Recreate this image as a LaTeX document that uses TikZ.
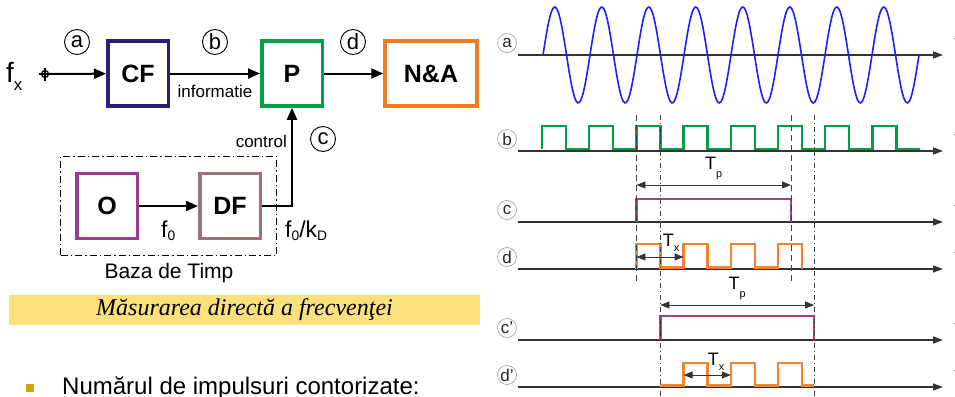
\documentclass[tikz,border=0pt]{standalone}
\usepackage{fontspec}
\setmainfont{Liberation Sans}
\newfontfamily\bandfont{Liberation Serif}
\usetikzlibrary{arrows.meta,calc,fit}
\definecolor{cfnavy}{HTML}{2A1F7A}
\definecolor{pgreen}{HTML}{00A04A}
\definecolor{naorange}{HTML}{F07C22}
\definecolor{opurple}{HTML}{9A3D8B}
\definecolor{dfmauve}{HTML}{9B7479}
\definecolor{bandyellow}{HTML}{FDE07E}
\definecolor{bulletgold}{HTML}{D4A206}
\definecolor{sinblue}{HTML}{1E1EFF}
\definecolor{sqgreen}{HTML}{00A040}
\definecolor{gatepurple}{HTML}{A3407F}
\definecolor{cntorange}{HTML}{F58232}
\newcommand{\setsz}[1]{\fontsize{#1}{#1}\selectfont}
\newcommand{\lsub}[2][0.3]{\raisebox{-#1em}{\scalebox{0.6}{#2}}}
\tikzset{
  block/.style={
    draw,
    line width=3.5pt,
    minimum width=60.5pt,
    minimum height=65pt,
    inner sep=0pt,
    font=\setsz{25}\bfseries
  },
  flow/.style={-{Triangle[length=12pt,width=10pt]}, line width=2pt},
  tag/.style={circle, draw, line width=0.9pt, minimum size=25pt, inner sep=0pt, font=\setsz{22}},
  lbl/.style={inner sep=0pt, font=\setsz{17}},
  inmark/.style={circle, draw, line width=1.3pt, minimum size=7pt, inner sep=0pt},
  timebase/.style={draw, line width=1.1pt, dash pattern=on 7pt off 3pt on 1.5pt off 3pt},
  band/.style={fill=bandyellow, minimum width=471pt, minimum height=30pt, inner sep=0pt,
    font=\bandfont\itshape\setsz{24}},
  taxis/.style={-{Triangle[length=10pt,width=7pt]}, line width=1.4pt, draw=black!80},
  sig/.style={circle, draw=black!35, line width=0.7pt, minimum size=19pt, inner sep=0pt,
    font=\setsz{17}, text=black!85},
  tmark/.style={inner sep=0pt, font=\setsz{17}, text=black!70},
  wave/.style={line width=2.4pt, line join=miter},
  guide/.style={draw=black!75, line width=1pt, dash pattern=on 6pt off 4pt},
  guidedot/.style={draw=black!75, line width=1pt, dash pattern=on 5pt off 3pt on 1pt off 3pt},
  dim/.style={{Triangle[length=9pt,width=7pt]}-{Triangle[length=9pt,width=7pt]},
    line width=0.8pt, draw=black!80},
  period/.style={inner sep=0pt, font=\setsz{18}}
}
\newcommand{\timeaxis}[3]{%
  \coordinate (ax#1s) at (518,#2);
  \coordinate (ax#1e) at (943,#2);
  \draw[taxis] (ax#1s) -- (ax#1e);
  \node[sig] (tg#1) at (507,#2-12) {#3};
  \node[tmark, anchor=west] (tm#1) at (954,#2-13) {t};
}

\begin{document}
\begin{tikzpicture}[x=1pt, y=-1pt]
  \useasboundingbox (0,0) rectangle (955,396);

  % block diagram
  \node[block, draw=cfnavy] (cf) at (138,73.5) {CF};
  \node[block, draw=pgreen] (p) at (292,73.5) {P};
  \node[block, draw=naorange, minimum width=92pt] (na) at (431,73.5) {N\&A};
  \node[block, draw=opurple] (o) at (107,206) {O};
  \node[block, draw=dfmauve] (df) at (230,206) {DF};
  \node[timebase, fit=(o)(df), inner xsep=14.5pt, inner ysep=15.5pt] (tb) {};

  \node[inmark] (in) at (45,74) {};
  \draw[line width=1.3pt] ($(in.center)+(-6.5,0)$) -- ($(in.center)+(6.5,0)$)
                          ($(in.center)+(0,-6.5)$) -- ($(in.center)+(0,6.5)$);
  \node[anchor=base west, inner sep=0pt, font=\setsz{28}] (fx) at (6,82) {f\lsub{x}};

  \draw[flow] (in) -- (cf);
  \draw[flow] (cf) -- (p);
  \draw[flow] (p) -- (na);
  \draw[flow] (o) -- (df);
  \draw[flow] (df.east) -| (p.south);

  \node[tag] (ta) at (77,42) {a};
  \node[tag] (tb2) at (215,42) {b};
  \node[tag] (td) at (353,42) {d};
  \node[tag] (tc) at (323,139) {c};

  \node[lbl, anchor=base] (info) at (215,97) {informatie};
  \node[lbl, anchor=base east] (ctrl) at (287,147) {control};
  \node[anchor=base west, inner sep=0pt, font=\setsz{23}] (f0) at (161,237) {f\lsub[0.15]{0}};
  \node[anchor=base west, inner sep=0pt, font=\setsz{23}] (f0k) at (285,237) {f\lsub[0.15]{0}/k\lsub[0.15]{D}};
  \node[anchor=base, inner sep=0pt, font=\setsz{21}] (tblabel) at (169,278) {Baza de Timp};

  \node[band] (title) at (244.5,310) {Măsurarea directă a frecvenţei};
  \fill[bulletgold] (26,384) rectangle (34,392);
  \node[anchor=base west, inner sep=0pt, font=\setsz{24}] (count) at (62,394) {Numărul de impulsuri contorizate:};

  % time diagrams
  \timeaxis{a}{55}{a}
  \timeaxis{b}{151}{b}
  \timeaxis{c}{222}{c}
  \timeaxis{d}{269}{d}
  \timeaxis{cc}{340}{c’}
  \timeaxis{dd}{387}{d’}

  \draw[line width=1.6pt, draw=sinblue] plot[domain=0:8, samples=240, smooth]
    ({543+47*\x},{55-48*sin(360*\x)});
  \draw[wave, draw=sqgreen] (542,149)
    \foreach \k in {0,...,7}{ -- ({542+47.2*\k},126) -- ({566+47.2*\k},126)
                              -- ({566+47.2*\k},149) -- ({589.2+47.2*\k},149) };
  \draw[wave, draw=gatepurple] (636.4,222) |- (791,199) -- (791,222);
  \draw[wave, draw=gatepurple] (660.4,340) |- (814,316) -- (814,340);
  \draw[wave, draw=cntorange] (636.4,269) -- (636.4,244) -- (660.4,244) -- (660.4,267.5)
    -- (683.6,267.5) -- (683.6,244) -- (707.6,244) -- (707.6,267.5)
    -- (730.8,267.5) -- (730.8,244) -- (754.8,244) -- (754.8,267.5)
    -- (778,267.5) -- (778,244) -- (802,244) -- (802,269);
  \draw[wave, draw=cntorange] (660.4,385.5) -- (683.6,385.5) -- (683.6,363) -- (707.6,363)
    -- (707.6,385.5) -- (730.8,385.5) -- (730.8,363) -- (754.8,363) -- (754.8,385.5)
    -- (778,385.5) -- (778,363) -- (802,363) -- (802,385.5) -- (814,385.5);

  \coordinate (g1) at (636.4,115);
  \coordinate (g2) at (791,115);
  \coordinate (g3) at (660.4,115);
  \coordinate (g4) at (814,115);
  \draw[guide] (g1) -- (636.4,282);
  \draw[guide] (g2) -- (791,282);
  \draw[guidedot] (g3) -- (660.4,396);
  \draw[guidedot] (g4) -- (814,396);

  \draw[dim] (636.4,185) -- node[period, above=5pt] {T\lsub[0.45]{p}} (791,185);
  \draw[dim] (660.4,305) -- node[period, above=5pt] {T\lsub[0.45]{p}} (814,305);
  \draw[dim] (636.4,257) -- (683.6,257);
  \node[period] (tx1) at (671,243) {T\lsub{x}};
  \draw[dim] (683.6,375) -- (730.8,375);
  \node[period] (tx2) at (716,362) {T\lsub{x}};
\end{tikzpicture}
\end{document}
